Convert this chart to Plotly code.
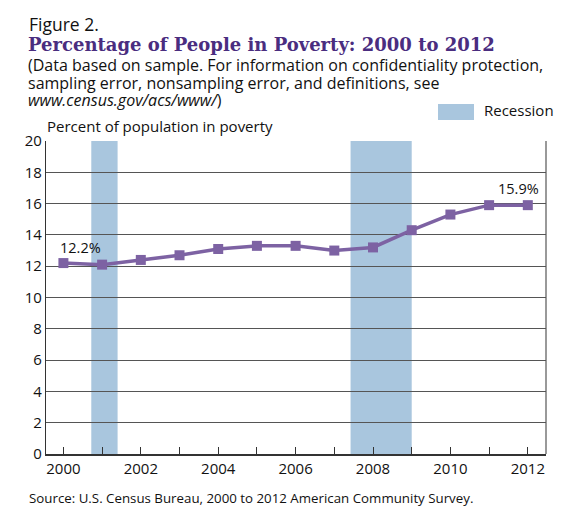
import plotly.graph_objects as go

# poverty rate, ACS 2000-2012
years = [2000, 2001, 2002, 2003, 2004, 2005, 2006, 2007, 2008, 2009, 2010, 2011, 2012]
poverty = [12.2, 12.1, 12.4, 12.7, 13.1, 13.3, 13.3, 13.0, 13.2, 14.3, 15.3, 15.9, 15.9]

# recession spans (in year units)
rec_start = [2000.72, 2007.42]
rec_end = [2001.40, 2009.0]

tick_years = list(range(2000, 2013))
tick_text = [str(y) if y % 2 == 0 else "" for y in tick_years]

W, H = 569, 521
L, R, T, B = 46, 546, 141, 454
FONT = "Open Sans"
PURPLE = "#7d62a3"
BAND = "#a9c6de"


def px(x):
    return (x - L) / (R - L)


def py(y):
    return (B - y) / (B - T)


fig = go.Figure()

fig.add_trace(go.Scatter(
    x=years, y=poverty, mode="lines+markers",
    line=dict(color=PURPLE, width=3.5),
    marker=dict(symbol="square", size=10, color=PURPLE),
    showlegend=False, hoverinfo="x+y",
))

for s, e in zip(rec_start, rec_end):
    fig.add_vrect(x0=s, x1=e, fillcolor=BAND, line_width=0, layer="below", opacity=1)

# right border of plot
fig.add_shape(type="line", xref="paper", yref="paper", x0=1, x1=1, y0=0, y1=1,
              line=dict(color="#555555", width=1.2))

# legend swatch
fig.add_shape(type="rect", xref="paper", yref="paper",
              x0=px(438), x1=px(474), y0=py(120), y1=py(104),
              fillcolor=BAND, line_width=0)

# text blocks: left x, baseline y (pixels), size
ann = [
    dict(text="Figure 2.", x=28, y=32, size=17.5, color="#111111"),
    dict(text="<b>Percentage of People in Poverty: 2000 to 2012</b>", x=27, y=51,
         size=18, color="#4a2d7f", family="DejaVu Serif"),
    dict(text="(Data based on sample. For information on confidentiality protection,",
         x=27, y=73, size=16, color="#111111"),
    dict(text="sampling error, nonsampling error, and definitions, see",
         x=27, y=90.5, size=16, color="#111111"),
    dict(text="<i>www.census.gov/acs/www/</i>)", x=27, y=108, size=16, color="#111111"),
    dict(text="Recession", x=483, y=117, size=15, color="#111111"),
    dict(text="Percent of population in poverty", x=46, y=133, size=15, color="#111111"),
    dict(text="Source: U.S. Census Bureau, 2000 to 2012 American Community Survey.",
         x=28, y=504, size=13.3, color="#111111"),
]
for a in ann:
    fig.add_annotation(
        text=a["text"], xref="paper", yref="paper",
        x=px(a["x"]), y=py(a["y"] + 0.27 * a["size"]),
        xanchor="left", yanchor="bottom", showarrow=False, borderpad=0,
        font=dict(family=a.get("family", FONT), size=a["size"], color=a["color"]),
    )

# value labels at first and last point
fig.add_annotation(x=years[0], y=poverty[0], text="12.2%", showarrow=False,
                   xshift=17, yshift=16, font=dict(family=FONT, size=14.5, color="#111111"))
fig.add_annotation(x=years[-1], y=poverty[-1], text="15.9%", showarrow=False,
                   xshift=-9, yshift=17, font=dict(family=FONT, size=14.5, color="#111111"))

fig.update_xaxes(
    range=[1999.55, 2012.47], tickvals=tick_years, ticktext=tick_text,
    ticks="inside", ticklen=7, tickcolor="#333333", tickwidth=1,
    showline=True, linecolor="#333333", linewidth=1.5, automargin=False,
    showgrid=False, zeroline=False, tickfont=dict(family=FONT, size=15, color="#111111"),
)
fig.update_yaxes(
    range=[0, 20], dtick=2, ticks="", showline=True, linecolor="#333333", linewidth=1.2,
    showgrid=True, gridcolor="#555555", gridwidth=1.2, zeroline=False, automargin=False,
    tickfont=dict(family=FONT, size=15, color="#111111"),
)

fig.update_layout(
    width=W, height=H,
    margin=dict(l=L, r=W - R, t=T, b=H - B),
    plot_bgcolor="white", paper_bgcolor="white",
    font=dict(family=FONT),
)

# drop the page's default 8px body margin so the figure sits at the corner
fig.write_html("out.html", config={"displayModeBar": False},
               post_script="document.body.style.margin='0';")
